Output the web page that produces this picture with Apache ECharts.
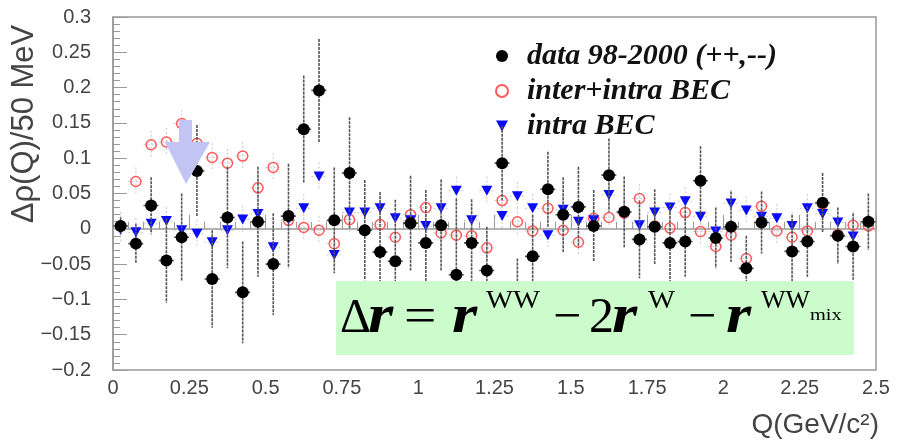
<!DOCTYPE html>
<html>
<head>
<meta charset="utf-8">
<script src="https://cdn.jsdelivr.net/npm/echarts@6/dist/echarts.min.js"></script>
<style>
html,body{margin:0;padding:0;background:#fff;}
#chart{width:898px;height:445px;}
</style>
</head>
<body>
<div id="chart"></div>
<script>
// ---- data ----
const qCenters = [0.025,0.075,0.125,0.175,0.225,0.275,0.325,0.375,0.425,0.475,
  0.525,0.575,0.625,0.675,0.725,0.775,0.825,0.875,0.925,0.975,
  1.025,1.075,1.125,1.175,1.225,1.275,1.325,1.375,1.425,1.475,
  1.525,1.575,1.625,1.675,1.725,1.775,1.825,1.875,1.925,1.975,
  2.025,2.075,2.125,2.175,2.225,2.275,2.325,2.375,2.425,2.475];

const dataValues = [0.004,-0.021,0.033,-0.045,-0.012,0.082,-0.071,0.016,-0.090,0.010,
  -0.050,0.018,0.141,0.196,0.012,0.079,-0.002,-0.033,-0.046,0.008,
  -0.020,0.005,-0.065,-0.020,-0.059,0.093,-0.110,-0.039,0.056,0.020,
  0.031,0.004,0.076,0.024,-0.015,0.003,-0.020,-0.018,0.068,-0.013,
  0.003,-0.056,0.009,null,-0.032,-0.018,0.037,-0.010,-0.025,0.010];

const dataErrors = [0.012,0.028,0.040,0.060,0.062,0.065,0.069,0.072,0.072,0.078,
  0.072,0.074,0.076,0.073,0.075,0.079,0.071,0.085,0.087,0.067,
  0.075,0.065,0.108,0.062,0.062,0.053,0.068,0.059,0.053,0.053,
  0.057,0.051,0.052,0.050,0.055,0.053,0.055,0.050,0.049,0.043,
  0.050,0.046,0.044,0.045,0.052,0.050,0.042,0.040,0.047,0.040];

const interIntraValues = [0.004,0.067,0.119,0.123,0.149,0.121,0.101,0.093,0.103,0.058,
  0.087,0.012,0.002,-0.002,-0.021,0.013,-0.002,0.006,-0.012,0.020,
  0.030,-0.006,-0.009,-0.010,-0.027,0.040,0.010,-0.003,0.029,-0.002,
  -0.019,0.015,0.016,0.022,0.043,0.004,0.001,0.023,-0.004,-0.025,
  -0.009,-0.042,0.032,-0.003,-0.012,-0.003,0.035,-0.008,0.005,0.004];

const intraValues = [-0.001,-0.005,0.007,0.011,-0.002,-0.007,-0.019,-0.002,0.013,0.021,
  -0.026,0.013,0.029,0.074,-0.037,0.023,0.023,0.029,0.015,0.012,
  0.004,0.029,0.054,0.012,0.054,0.018,0.046,0.029,-0.009,0.027,
  0.010,0.012,0.048,0.022,0.005,0.023,0.030,0.039,0.017,-0.004,
  0.036,0.026,0.017,0.015,0.004,0.029,0.021,0.009,-0.011,0.008];

const modelErrorBar = 0.02;
const binHalfWidth = 0.025;

const seriesNames = ['data 98-2000 (++,--)', 'inter+intra BEC', 'intra BEC'];
const xTickLabels = ['0','0.25','0.5','0.75','1','1.25','1.5','1.75','2','2.25','2.5'];
const yTickLabels = ['\u22120.2','\u22120.15','\u22120.1','\u22120.05','0','0.05','0.1','0.15','0.2','0.25','0.3'];

// ---- helpers ----
function pts(vals) {
  const out = [];
  vals.forEach((v, i) => { if (v !== null) out.push([qCenters[i], v]); });
  return out;
}
function errPts(vals, errs) {
  const out = [];
  vals.forEach((v, i) => { if (v !== null) out.push([qCenters[i], v, Array.isArray(errs) ? errs[i] : errs]); });
  return out;
}
function errRenderer(color, width, dash) {
  return function (params, api) {
    const x = api.value(0), y = api.value(1), e = api.value(2);
    const top = api.coord([x, y + e]);
    const bot = api.coord([x, y - e]);
    const l = api.coord([x - binHalfWidth, y]);
    const r = api.coord([x + binHalfWidth, y]);
    const st = { stroke: color, lineWidth: width, lineDash: dash || null };
    return {
      type: 'group',
      children: [
        { type: 'line', shape: { x1: top[0], y1: top[1], x2: bot[0], y2: bot[1] }, style: st },
        { type: 'line', shape: { x1: l[0], y1: l[1], x2: r[0], y2: r[1] }, style: st }
      ]
    };
  };
}

const chart = echarts.init(document.getElementById('chart'), null, { renderer: 'canvas' });

const axisFont = { fontFamily: 'Liberation Sans', fontSize: 20, color: '#444' };
const frameColor = '#999';

const serifMain = 'Liberation Serif';
function fText(x, baseline, text, size, bold, italic, sx) {
  return {
    type: 'text', z: 101,
    x: x, y: baseline - 0.34 * size, scaleX: sx || 1, scaleY: 1,
    style: {
      x: 0, y: 0, text: text,
      fontFamily: serifMain, fontSize: size,
      fontWeight: bold ? 'bold' : 'normal', fontStyle: italic ? 'italic' : 'normal',
      fill: '#000', textAlign: 'left', textVerticalAlign: 'middle'
    }
  };
}

const option = {
  backgroundColor: '#fff',
  animation: false,
  grid: { left: 113, right: 22, top: 17, bottom: 75, show: true, borderColor: frameColor, borderWidth: 1.5, backgroundColor: 'transparent' },
  xAxis: {
    type: 'value', min: 0, max: 2.5, interval: 0.25,
    axisLine: { show: true, lineStyle: { color: frameColor, width: 1.5 } },
    axisTick: { show: true, inside: true, length: 14, lineStyle: { color: frameColor } },
    minorTick: { show: true, splitNumber: 5, length: 7, lineStyle: { color: frameColor } },
    splitLine: { show: false },
    axisLabel: Object.assign({ margin: 8, formatter: v => xTickLabels[Math.round(v / 0.25)] ?? '' }, axisFont)
  },
  yAxis: {
    type: 'value', min: -0.2, max: 0.3, interval: 0.05,
    axisLine: { show: true, lineStyle: { color: frameColor, width: 1.5 } },
    axisTick: { show: true, inside: true, length: 14, lineStyle: { color: frameColor } },
    minorTick: { show: true, splitNumber: 5, length: 7, lineStyle: { color: frameColor } },
    splitLine: { show: false },
    axisLabel: Object.assign({ margin: 22, formatter: v => yTickLabels[Math.round((v + 0.2) / 0.05)] ?? '' }, axisFont)
  },
  legend: {
    data: [
      { name: seriesNames[0] },
      { name: seriesNames[1] },
      { name: seriesNames[2], icon: 'path://M0,0L11,0L5.5,10Z' }
    ],
    orient: 'vertical', left: 490, top: 36, itemGap: 5,
    itemWidth: 12, itemHeight: 12,
    textStyle: { fontFamily: serifMain, fontStyle: 'italic', fontWeight: 'bold', fontSize: 30, lineHeight: 30, color: '#111', padding: [0, 0, 0, 14] }
  },
  series: [
    { type: 'custom', name: 'errInter', clip: true, z: 1, renderItem: errRenderer('#c8c8c8', 1, [2, 2]), data: errPts(interIntraValues, modelErrorBar), silent: true },
    { type: 'custom', name: 'errIntra', clip: true, z: 1, renderItem: errRenderer('#c8c8c8', 1, [2, 2]), data: errPts(intraValues, modelErrorBar), silent: true },
    { type: 'scatter', name: seriesNames[1], z: 3, symbol: 'circle', symbolSize: 10,
      itemStyle: { color: 'rgba(255,255,255,0)', borderColor: '#ff5a5a', borderWidth: 1.5, opacity: 1 },
      data: pts(interIntraValues) },
    { type: 'scatter', name: seriesNames[2], z: 4, symbol: 'triangle', symbolRotate: 180, symbolSize: [11, 10],
      itemStyle: { color: '#0a0aff', opacity: 1 }, data: pts(intraValues) },
    { type: 'custom', name: 'errData', clip: true, z: 5, renderItem: errRenderer('#555', 1.6, [3, 1]), data: errPts(dataValues, dataErrors), silent: true },
    { type: 'scatter', name: seriesNames[0], z: 6, symbol: 'circle', symbolSize: 12,
      itemStyle: { color: '#000', opacity: 1 }, data: pts(dataValues) }
  ],
  graphic: [
    { type: 'rect', z: 100, shape: { x: 336, y: 281, width: 518, height: 74 }, style: { fill: '#ccfccc' } },
    fText(340, 336, '\u0394', 48, false, false, 1.0),
    fText(368, 336, 'r', 54, true, true, 1.2),
    fText(404, 336, '=', 50, false, false, 1.15),
    fText(452, 336, 'r', 54, true, true, 1.2),
    fText(486, 310, 'WW', 26, false, false, 1.1),
    fText(553, 336, '\u2212', 50, false, false, 1.0),
    fText(589, 336, '2', 50, false, false, 1.0),
    fText(612, 336, 'r', 54, true, true, 1.2),
    fText(648, 310, 'W', 26, false, false, 1.1),
    fText(688, 336, '\u2212', 50, false, false, 1.0),
    fText(726, 336, 'r', 54, true, true, 1.2),
    fText(761, 310, 'WW', 26, false, false, 1.0),
    fText(810, 321, 'mix', 17, false, false, 1.2),
    { type: 'polygon', z: 100, shape: { points: [[179,120],[192,120],[192,142],[210,142],[186,184],[165,142],[179,142]] }, style: { fill: '#c2c5f3' } },
    { type: 'text', z: 100, x: 24, y: 124, rotation: Math.PI / 2,
      style: { text: '\u0394\u03c1(Q)/50 MeV', fontFamily: 'Liberation Sans', fontSize: 31, fill: '#444', textAlign: 'center', textVerticalAlign: 'middle' } },
    { type: 'text', z: 100,
      style: { x: 879, y: 425, text: 'Q(GeV/c\u00b2)', fontFamily: 'Liberation Sans', fontSize: 28, fill: '#444', textAlign: 'right', textVerticalAlign: 'middle' } }
  ]
};
chart.setOption(option);
</script>
</body>
</html>
